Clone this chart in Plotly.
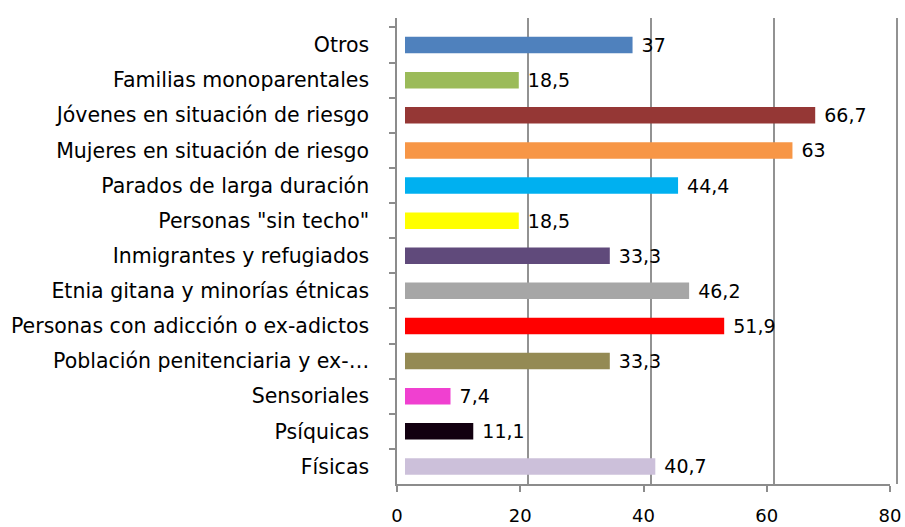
import plotly.graph_objects as go

categories = [
    "Otros",
    "Familias monoparentales",
    "Jóvenes en situación de riesgo",
    "Mujeres en situación de riesgo",
    "Parados de larga duración",
    "Personas \"sin techo\"",
    "Inmigrantes y refugiados",
    "Etnia gitana y minorías étnicas",
    "Personas con adicción o ex-adictos",
    "Población penitenciaria y ex-…",
    "Sensoriales",
    "Psíquicas",
    "Físicas",
]
values = [37, 18.5, 66.7, 63, 44.4, 18.5, 33.3, 46.2, 51.9, 33.3, 7.4, 11.1, 40.7]
colors = ["#4F81BD", "#9BBB59", "#953735", "#F79646", "#00B0F0", "#FFFF00",
          "#604A7B", "#A6A6A6", "#FF0000", "#948A54", "#F040D0", "#120010", "#CCC0DA"]
x_ticks = [0, 20, 40, 60, 80]

labels = [str(v).replace(".", ",") if v != int(v) else str(int(v)) for v in values]

FONT = "DejaVu Sans"
W, H = 905, 527
ml, mr, mt, mb = 397, 2, 18, 43
pw = W - ml - mr

fig = go.Figure()
fig.add_trace(go.Bar(
    y=categories, x=values, orientation="h",
    xaxis="x", yaxis="y",
    marker=dict(color=colors, line=dict(width=0)),
    text=labels, texttemplate=" %{text}",
    textposition="outside", cliponaxis=False, constraintext="none",
    outsidetextfont=dict(family=FONT, size=19, color="black"),
    hoverinfo="skip",
))
# helper invisible trace so the front value axis is drawn
fig.add_trace(go.Scatter(
    x=[x_ticks[0], x_ticks[-1]], y=[categories[0], categories[0]],
    xaxis="x2", yaxis="y", mode="markers", marker=dict(opacity=0),
    hoverinfo="skip", showlegend=False,
))

fig.update_layout(
    width=W, height=H,
    margin=dict(l=ml, r=mr, t=mt, b=mb, autoexpand=False),
    paper_bgcolor="white", plot_bgcolor="rgba(0,0,0,0)",
    showlegend=False,
    bargap=0.53,
    font=dict(family=FONT, size=18, color="black"),
    xaxis=dict(
        domain=[(405 - ml) / pw, 1], range=[0, 80 * (W - mr - 405) / (897 - 405)],
        anchor="y",
        showgrid=True, gridcolor="#929292", gridwidth=1.5,
        tickvals=x_ticks, showticklabels=False, zeroline=False,
        showline=False, ticks="", automargin=False,
    ),
    xaxis2=dict(
        domain=[0, (890 - ml) / pw], range=[0, 80], anchor="y",
        tickvals=x_ticks, showgrid=False, zeroline=False,
        showline=True, linecolor="#8C8C8C", linewidth=1.5,
        ticks="outside", ticklen=6, tickcolor="#8C8C8C", tickwidth=1.5,
        ticklabelstandoff=9, automargin=False,
        tickfont=dict(family=FONT, size=18, color="black"),
    ),
    yaxis=dict(
        autorange="reversed", anchor="x2", automargin=False,
        showline=True, linecolor="#8C8C8C", linewidth=1.5,
        ticks="outside", ticklen=6, tickcolor="#8C8C8C", tickwidth=1.5,
        tickson="boundaries", showgrid=False,
        ticklabelstandoff=22,
        tickfont=dict(family=FONT, size=20.5, color="black"),
    ),
)

fig.write_html(
    "out.html",
    config={"displayModeBar": False},
    post_script="document.body.style.margin='0';document.body.style.overflow='hidden';",
)
